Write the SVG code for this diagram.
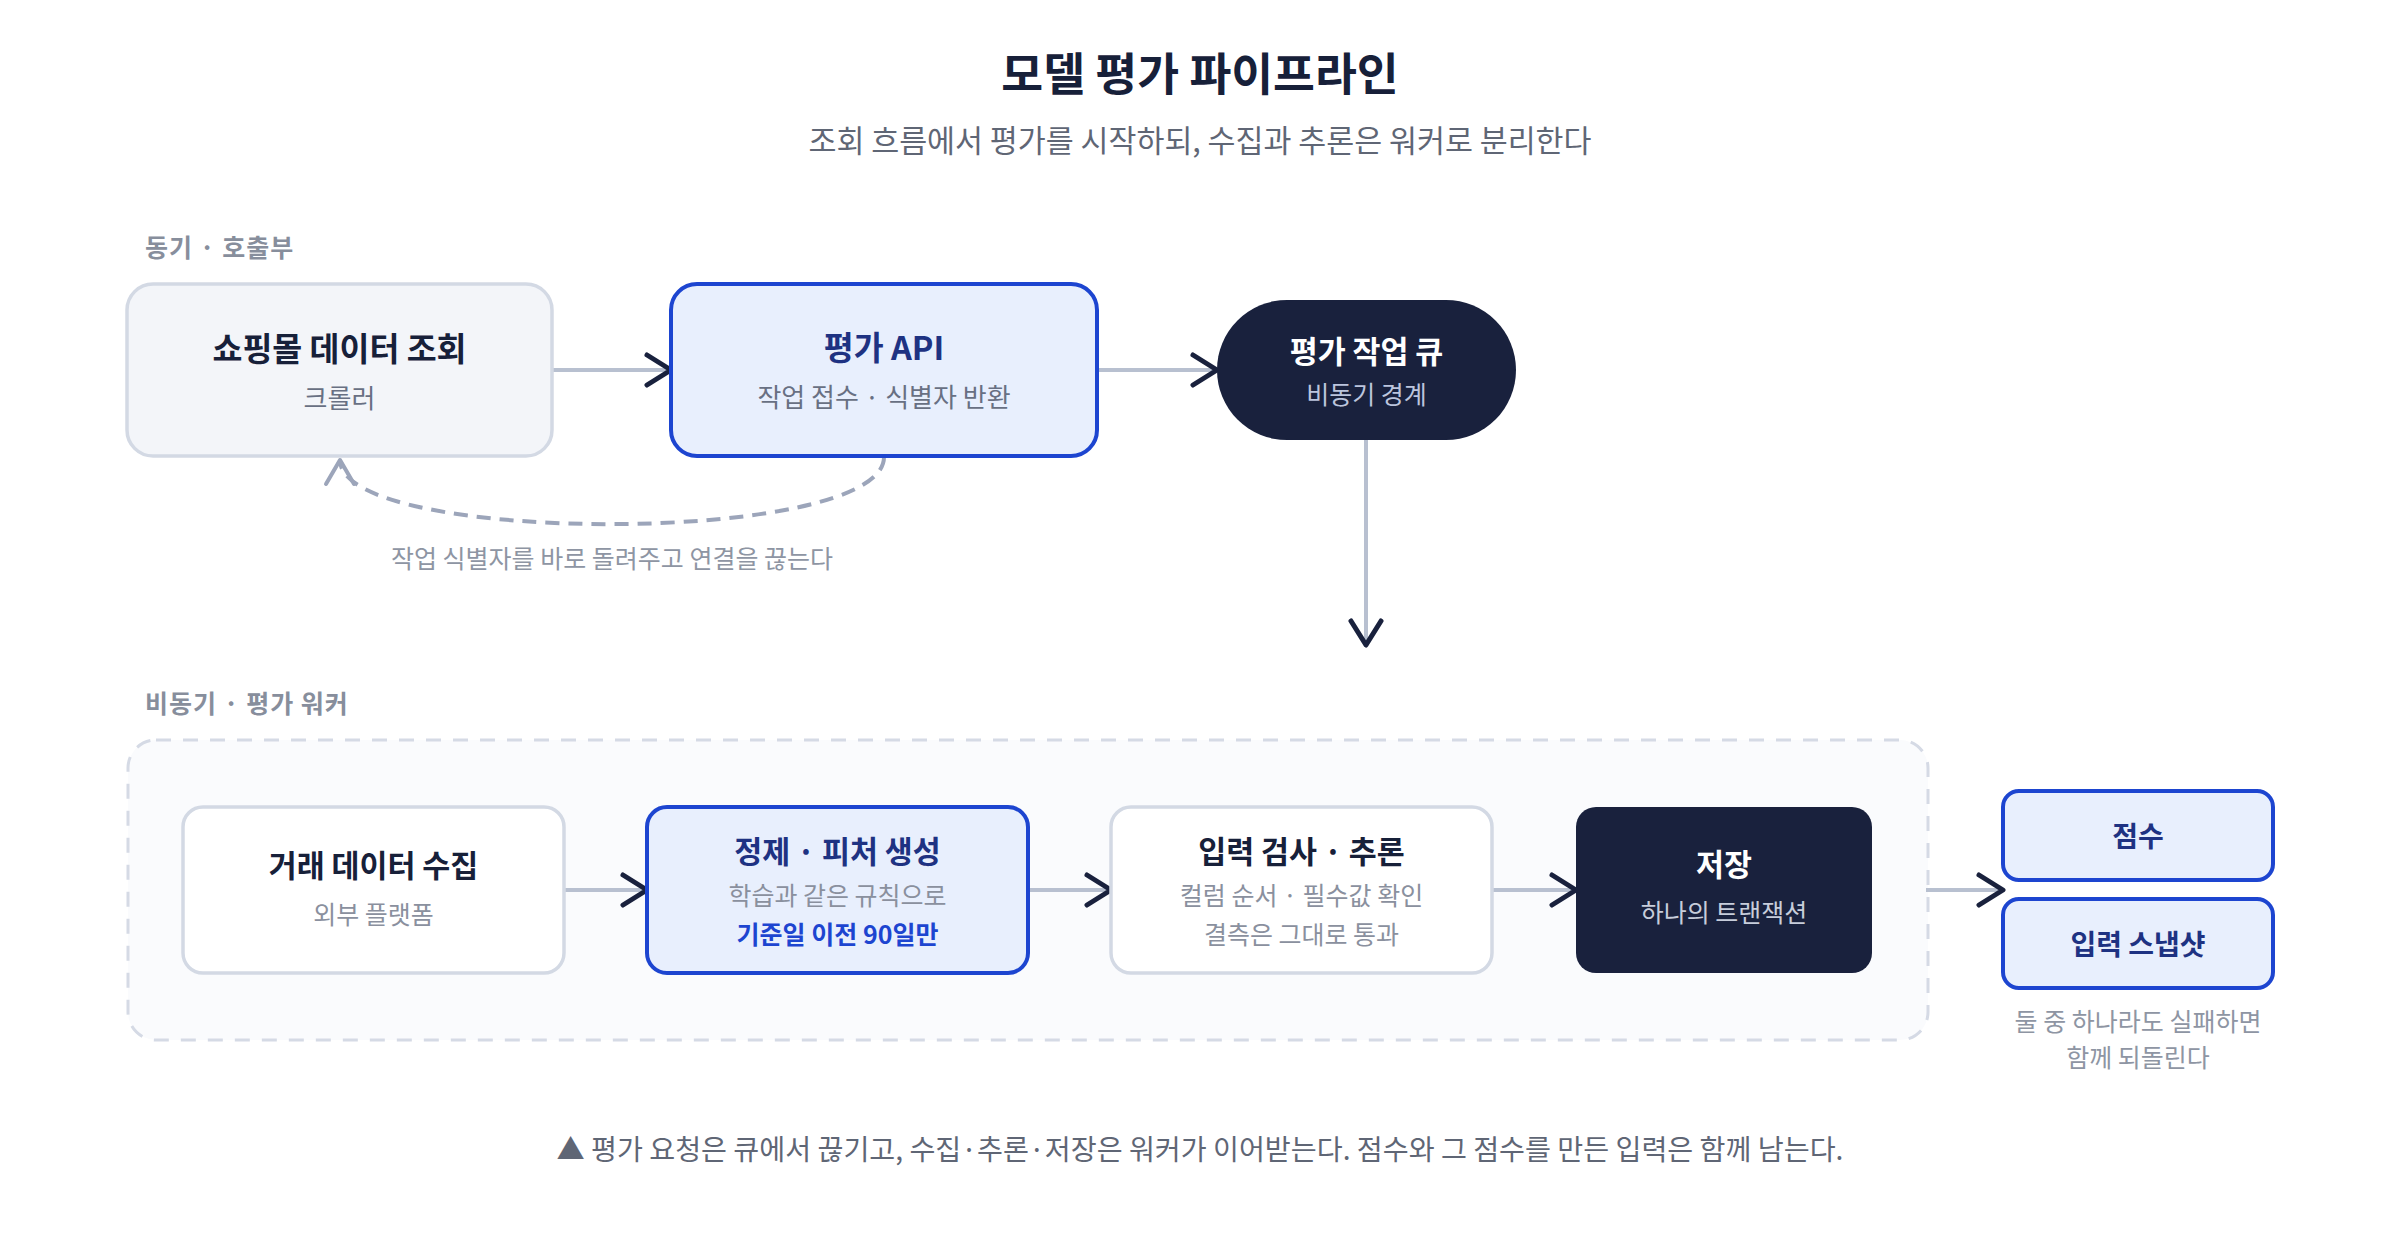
<svg xmlns="http://www.w3.org/2000/svg" width="2400" height="1240" viewBox="0 0 2400 1240">
  <defs>
    <style>
      text { font-family: 'Noto Sans CJK KR', 'Noto Sans', sans-serif; }
      .c { text-anchor: middle; }
      .title { font-size: 45.5px; font-weight: 700; fill: #172039; }
      .subtitle { font-size: 30.4px; fill: #5f6675; }
      .sec { font-size: 25px; font-weight: 700; fill: #878e9c; letter-spacing: 1px; }
      .box-gray { fill: #f3f5f9; stroke: #d3d9e4; stroke-width: 3.5; }
      .box-white { fill: #ffffff; stroke: #d3d9e4; stroke-width: 3.5; }
      .box-blue { fill: #e8effd; stroke: #1d45d0; stroke-width: 4; }
      .box-dark { fill: #19213d; }
      .h30 { font-size: 32.5px; font-weight: 700; fill: #172039; }
      .h28 { font-size: 30.4px; font-weight: 700; fill: #172039; }
      .h26 { font-size: 28px; font-weight: 700; fill: #1e3282; }
      .hblue { fill: #1e3282; }
      .hwhite { fill: #ffffff; }
      .s24 { font-size: 26px; fill: #687083; }
      .s23 { font-size: 25px; fill: #8a909e; }
      .s23b { font-size: 25px; font-weight: 700; fill: #1d45d0; }
      .sdark { fill: #bcc5dd; }
      .cap { font-size: 25px; fill: #8e95a3; }
      .note { font-size: 28.2px; fill: #5f6675; }
      .link { fill: none; stroke: #b8c0d0; stroke-width: 4; marker-end: url(#chev); }
      .ret { fill: none; stroke: #9ca5ba; stroke-width: 4; stroke-dasharray: 14 9; marker-end: url(#chevg); }
      .group { fill: #fafbfd; stroke: #d5dae5; stroke-width: 3; stroke-dasharray: 15 12; }
    </style>
    <marker id="chev" viewBox="-30 -20 36 40" refX="0" refY="0" markerWidth="36" markerHeight="40" markerUnits="userSpaceOnUse" orient="auto">
      <path d="M-24,-15 L0,0 L-24,15" fill="none" stroke="#19213d" stroke-width="5" stroke-linecap="round" stroke-linejoin="round"/>
    </marker>
    <marker id="chevg" viewBox="-30 -20 36 40" refX="0" refY="0" markerWidth="36" markerHeight="40" markerUnits="userSpaceOnUse" orient="auto">
      <path d="M-24,-14 L0,0 L-24,14" fill="none" stroke="#9ca5ba" stroke-width="4" stroke-dasharray="none" stroke-linecap="round" stroke-linejoin="round"/>
    </marker>
  </defs>

  <rect width="2400" height="1240" fill="#ffffff"/>

  <g id="header">
    <text class="title c" x="1200" y="91">모델 평가 파이프라인</text>
    <text class="subtitle c" x="1200" y="152">조회 흐름에서 평가를 시작하되, 수집과 추론은 워커로 분리한다</text>
  </g>

  <g id="section-sync">
    <text class="sec" x="145" y="257">동기 · 호출부</text>
  </g>

  <g id="section-async">
    <rect class="group" x="128" y="740" width="1800" height="300" rx="28"/>
    <text class="sec" x="145" y="713">비동기 · 평가 워커</text>
  </g>

  <g id="connectors">
    <line class="link" x1="552" y1="370" x2="671" y2="370"/>
    <line class="link" x1="1097" y1="370" x2="1217" y2="370"/>
    <line class="link" x1="1366" y1="440" x2="1366" y2="645"/>
    <path class="ret" d="M884,457 C884,546 340,546 340,460"/>
    <text class="cap c" x="612" y="568">작업 식별자를 바로 돌려주고 연결을 끊는다</text>
    <line class="link" x1="564" y1="890" x2="647" y2="890"/>
    <line class="link" x1="1028" y1="890" x2="1111" y2="890"/>
    <line class="link" x1="1492" y1="890" x2="1576" y2="890"/>
    <line class="link" x1="1926" y1="890" x2="2003" y2="890"/>
  </g>

  <g id="node-crawler">
    <rect class="box-gray" x="127" y="284" width="425" height="172" rx="26"/>
    <text class="h30 c" x="339.5" y="361">쇼핑몰 데이터 조회</text>
    <text class="s24 c" x="339.5" y="408">크롤러</text>
  </g>

  <g id="node-api">
    <rect class="box-blue" x="671" y="284" width="426" height="172" rx="26"/>
    <text class="h30 hblue c" x="884" y="360">평가 API</text>
    <text class="s24 c" x="884" y="407">작업 접수 · 식별자 반환</text>
  </g>

  <g id="node-queue">
    <rect class="box-dark" x="1217" y="300" width="299" height="140" rx="70"/>
    <text class="h28 hwhite c" x="1366.5" y="363">평가 작업 큐</text>
    <text class="s23 sdark c" x="1366.5" y="404">비동기 경계</text>
  </g>

  <g id="node-collect">
    <rect class="box-white" x="183" y="807" width="381" height="166" rx="20"/>
    <text class="h28 c" x="373.5" y="877">거래 데이터 수집</text>
    <text class="s23 c" x="373.5" y="924">외부 플랫폼</text>
  </g>

  <g id="node-feature">
    <rect class="box-blue" x="647" y="807" width="381" height="166" rx="20"/>
    <text class="h28 hblue c" x="837.5" y="863">정제 · 피처 생성</text>
    <text class="s23 c" x="837.5" y="905">학습과 같은 규칙으로</text>
    <text class="s23b c" x="837.5" y="944">기준일 이전 90일만</text>
  </g>

  <g id="node-infer">
    <rect class="box-white" x="1111" y="807" width="381" height="166" rx="20"/>
    <text class="h28 c" x="1301.5" y="863">입력 검사 · 추론</text>
    <text class="s23 c" x="1301.5" y="905">컬럼 순서 · 필수값 확인</text>
    <text class="s23 c" x="1301.5" y="944">결측은 그대로 통과</text>
  </g>

  <g id="node-store">
    <rect class="box-dark" x="1576" y="807" width="296" height="166" rx="20"/>
    <text class="h28 hwhite c" x="1724" y="876">저장</text>
    <text class="s23 c" x="1724" y="922" style="fill:#c7cddb">하나의 트랜잭션</text>
  </g>

  <g id="node-score">
    <rect class="box-blue" x="2003" y="791" width="270" height="89" rx="16"/>
    <text class="h26 c" x="2138" y="847">점수</text>
  </g>

  <g id="node-snapshot">
    <rect class="box-blue" x="2003" y="899" width="270" height="89" rx="16"/>
    <text class="h26 c" x="2138" y="955">입력 스냅샷</text>
  </g>

  <g id="output-caption">
    <text class="cap c" x="2138" y="1031">둘 중 하나라도 실패하면</text>
    <text class="cap c" x="2138" y="1067">함께 되돌린다</text>
  </g>

  <g id="footer">
    <text class="note c" x="1200" y="1160">▲ 평가 요청은 큐에서 끊기고, 수집·추론·저장은 워커가 이어받는다. 점수와 그 점수를 만든 입력은 함께 남는다.</text>
  </g>
</svg>
